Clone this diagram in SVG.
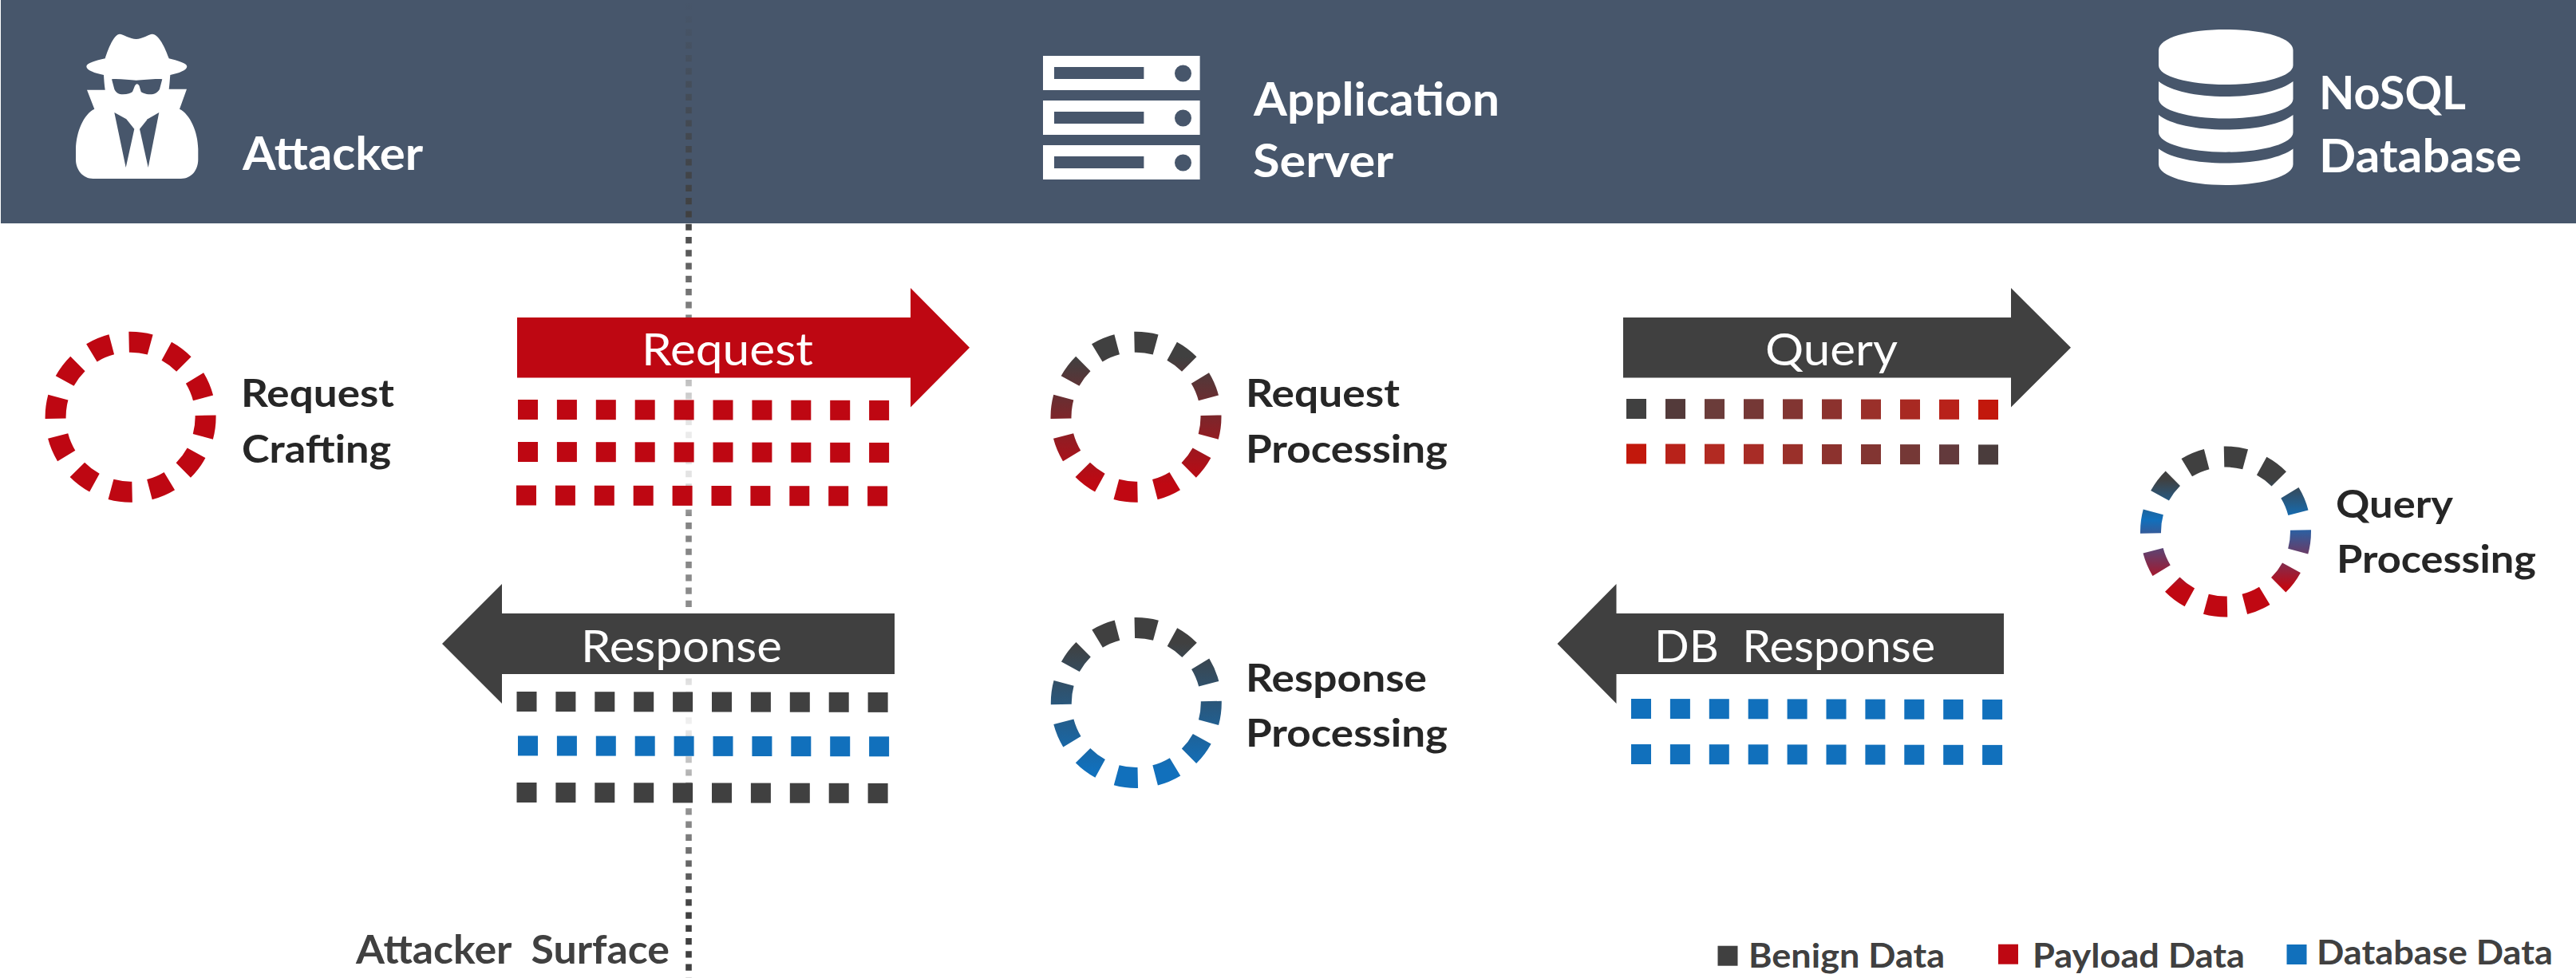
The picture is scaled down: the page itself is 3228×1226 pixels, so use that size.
<svg xmlns="http://www.w3.org/2000/svg" xmlns:xlink="http://www.w3.org/1999/xlink" width="3228" height="1226" viewBox="0 0 3228 1226">
<style>
text{font-family:Lato,"Liberation Sans",sans-serif}
.h{font-weight:700;font-size:58px;fill:#fff}
.l{font-weight:700;font-size:48px;fill:#262626}
.a{font-weight:400;font-size:57px;fill:#fff}
.g{font-weight:700;font-size:42px;fill:#404040}
.s{font-weight:700;font-size:50px;fill:#404040}
.ring{fill:none;stroke-width:26;stroke-dasharray:16.5 13.5;stroke-dashoffset:1.25}
.i{fill:#fff}.n{fill:#47566B}
.k{fill:#404040}.r{fill:#BE0712}.b{fill:#1170BC}
</style>
<defs>
<linearGradient id="gSurface" gradientUnits="userSpaceOnUse" x1="0" y1="0" x2="0" y2="1226">
<stop offset="0" stop-color="#404040" stop-opacity="0"/>
<stop offset=".22" stop-color="#404040"/>
<stop offset=".32" stop-color="#404040" stop-opacity=".65"/>
<stop offset=".44" stop-color="#404040" stop-opacity=".1"/>
<stop offset=".49" stop-color="#404040" stop-opacity=".15"/>
<stop offset=".53" stop-color="#404040" stop-opacity=".65"/>
<stop offset=".62" stop-color="#404040" stop-opacity=".6"/>
<stop offset=".70" stop-color="#404040" stop-opacity=".15"/>
<stop offset=".74" stop-color="#404040" stop-opacity=".08"/>
<stop offset=".80" stop-color="#404040" stop-opacity=".45"/>
<stop offset=".93" stop-color="#404040"/>
<stop offset=".995" stop-color="#404040"/>
<stop offset="1" stop-color="#404040" stop-opacity=".1"/>
</linearGradient>
<linearGradient id="gReq" x1="0" y1="0" x2="0" y2="1"><stop offset=".1" stop-color="#404040"/><stop offset=".95" stop-color="#C00812"/></linearGradient>
<linearGradient id="gResp" x1="0" y1="0" x2="0" y2="1"><stop offset=".1" stop-color="#404040"/><stop offset=".95" stop-color="#1170BC"/></linearGradient>
<linearGradient id="gQuery" x1="0" y1="0" x2="0" y2="1"><stop offset=".15" stop-color="#404040"/><stop offset=".42" stop-color="#1170BC"/><stop offset=".87" stop-color="#C00812"/></linearGradient>
<g id="row">
<rect x="0" y="0" width="25" height="25"/><rect x="48.9" y=".1" width="25" height="25"/><rect x="97.8" y=".2" width="25" height="25"/><rect x="146.7" y=".3" width="25" height="25"/><rect x="195.6" y=".4" width="25" height="25"/><rect x="244.5" y=".5" width="25" height="25"/><rect x="293.4" y=".6" width="25" height="25"/><rect x="342.3" y=".7" width="25" height="25"/><rect x="391.2" y=".8" width="25" height="25"/><rect x="440.1" y=".9" width="25" height="25"/>
</g>
<g id="rackUnit">
<path class="i" fill-rule="evenodd" d="M0 0H196.6V43H0ZM14 14V29H126.400V14ZM175.500 11.500A10.500 10.500 0 1 0 175.500 32.500A10.500 10.500 0 1 0 175.500 11.500Z"/>
</g>
</defs>
<rect x="1" y="0" width="3227" height="280" class="n"/>
<g id="attacker-surface">
<line x1="863" y1="3.900" x2="863" y2="1226" stroke="url(#gSurface)" stroke-width="7.600" stroke-dasharray="8.200 8.080"/>
<text class="s" x="446" y="1207.500" textLength="393" lengthAdjust="spacingAndGlyphs" xml:space="preserve">Attacker  Surface</text>
</g>
<g id="attacker">
<path class="i" d="M150 42.700C154 42.700 163 49 170.700 49C178 49 187 42.700 190.700 42.700C199 42.700 207 60 211.700 73.300C222 76 234.300 79 234.300 83.300C234.300 88 224 92 213.300 94C212.800 100 212.500 106 211.700 111.700H234L225 136.700C238 143 248 165 248.300 186.700V200C248.300 213 240 224 226.700 224H116.700C104 224 95 213 95 200V186.700C95.500 165 105 143 118.300 136.700L109 112.700H131.700C130.700 106 130.300 100 130 94C119 92 108.300 88 108.300 83.300C108.300 79 120 76 131.700 73.300C136 60 143 42.700 150 42.700Z"/>
<path class="n" d="M140 99.300C150 98.500 162 100.700 170.700 100.700C180 100.700 193 98.500 203.300 99.300L200 111.700C198 116 193 118.300 188.300 118.300C182 118.300 178 116 176.700 115L174.500 107.500Q171.700 103 169 107.500L166 115C164 116.500 160 118.300 154 118.300C149 118.300 145 116 143.300 111.700Z"/>
<path class="n" d="M143.300 141L158.300 149.300L168.300 161.700L157.700 210Z"/>
<path class="n" d="M199.300 141L185 149.300L175 161.700L185.700 210Z"/>
<text class="h" x="304" y="212.500" textLength="226" lengthAdjust="spacingAndGlyphs">Attacker</text>
</g>
<g id="application-server">
<use xlink:href="#rackUnit" href="#rackUnit" transform="translate(1307 70)"/>
<use xlink:href="#rackUnit" href="#rackUnit" transform="translate(1307 126)"/>
<use xlink:href="#rackUnit" href="#rackUnit" transform="translate(1307 182)"/>
<text class="h" x="1571" y="145" textLength="308" lengthAdjust="spacingAndGlyphs">Application</text>
<text class="h" x="1570" y="222" textLength="176" lengthAdjust="spacingAndGlyphs">Server</text>
</g>
<g id="nosql-database">
<path class="i" d="M2705 63C2705 47 2743 37 2789 37C2835 37 2873.500 47 2873.500 63V82C2873.500 96 2835 106 2789 106C2743 106 2705 96 2705 82Z"/>
<path class="i" d="M2705 102C2720 114 2752 121 2789 121C2826 121 2858 114 2873.500 102V124C2873.500 138 2835 148.500 2789 148.500C2743 148.500 2705 138 2705 124Z"/>
<path class="i" d="M2705 144C2720 156 2752 162.500 2789 162.500C2826 162.500 2858 156 2873.500 144V166C2873.500 180 2835 190.700 2789 190.700C2743 190.700 2705 180 2705 166Z"/>
<path class="i" d="M2705 186.500C2720 198 2752 204.500 2789 204.500C2826 204.500 2858 198 2873.500 186.500V206C2873.500 221 2835 232 2789 232C2743 232 2705 221 2705 206Z"/>
<text class="h" x="2906" y="137" textLength="184" lengthAdjust="spacingAndGlyphs">NoSQL</text>
<text class="h" x="2906" y="216" textLength="254" lengthAdjust="spacingAndGlyphs">Database</text>
</g>
<g id="request-crafting">
<circle class="ring" pathLength="360" cx="163.600" cy="522.700" r="94" stroke="#BE0712"/>
<text class="l" x="302" y="510" textLength="192" lengthAdjust="spacingAndGlyphs">Request</text>
<text class="l" x="303" y="579.500" textLength="187" lengthAdjust="spacingAndGlyphs">Crafting</text>
</g>
<g id="request-processing">
<circle class="ring" pathLength="360" cx="1423.500" cy="522.700" r="94" stroke="url(#gReq)"/>
<text class="l" x="1561" y="510" textLength="193" lengthAdjust="spacingAndGlyphs">Request</text>
<text class="l" x="1561" y="579.500" textLength="253" lengthAdjust="spacingAndGlyphs">Processing</text>
</g>
<g id="response-processing">
<circle class="ring" pathLength="360" cx="1423.800" cy="881" r="94" stroke="url(#gResp)"/>
<text class="l" x="1561" y="867" textLength="227" lengthAdjust="spacingAndGlyphs">Response</text>
<text class="l" x="1561" y="936" textLength="253" lengthAdjust="spacingAndGlyphs">Processing</text>
</g>
<g id="query-processing">
<circle class="ring" pathLength="360" cx="2789" cy="666.500" r="94" stroke="url(#gQuery)"/>
<text class="l" x="2927" y="648.500" textLength="147" lengthAdjust="spacingAndGlyphs">Query</text>
<text class="l" x="2928" y="717.500" textLength="250" lengthAdjust="spacingAndGlyphs">Processing</text>
</g>
<g id="connectors">
<g id="request-arrow">
<path fill="#BE0712" d="M648 398H1141V361L1215 435.700L1141 510.500V473.500H648Z"/>
<text class="a" x="804" y="457.500" textLength="215" lengthAdjust="spacingAndGlyphs">Request</text>
<use href="#row" class="r" transform="translate(649 501)"/>
<use href="#row" class="r" transform="translate(649 554)"/>
<use href="#row" class="r" transform="translate(647 608.500)"/>
</g>
<g id="query-arrow">
<path fill="#404040" d="M2034 398H2520V361L2595 435.700L2520 510.500V473.500H2034Z"/>
<text class="a" x="2212" y="457.500" textLength="166" lengthAdjust="spacingAndGlyphs">Query</text>
<rect x="2038" y="500" width="25" height="25" fill="#404040"/><rect x="2087" y="500.100" width="25" height="25" fill="#533A3A"/><rect x="2136" y="500.200" width="25" height="25" fill="#6B3C3A"/><rect x="2185" y="500.300" width="25" height="25" fill="#753836"/><rect x="2234" y="500.400" width="25" height="25" fill="#823532"/><rect x="2283" y="500.500" width="25" height="25" fill="#8C322E"/><rect x="2332" y="500.600" width="25" height="25" fill="#9A302A"/><rect x="2381" y="500.700" width="25" height="25" fill="#A82922"/><rect x="2430" y="500.800" width="25" height="25" fill="#B8221A"/><rect x="2479" y="501" width="25" height="25" fill="#C2180C"/>
<rect x="2038" y="556.400" width="25" height="25" fill="#C2180C"/><rect x="2087" y="556.500" width="25" height="25" fill="#B8221A"/><rect x="2136" y="556.600" width="25" height="25" fill="#B22A22"/><rect x="2185" y="556.700" width="25" height="25" fill="#A82C26"/><rect x="2234" y="556.800" width="25" height="25" fill="#9A302A"/><rect x="2283" y="556.900" width="25" height="25" fill="#8C322E"/><rect x="2332" y="557" width="25" height="25" fill="#823532"/><rect x="2381" y="557.100" width="25" height="25" fill="#753836"/><rect x="2430" y="557.200" width="25" height="25" fill="#633A3C"/><rect x="2479" y="557.400" width="25" height="25" fill="#4A3C3C"/>
</g>
<g id="response-arrow">
<path fill="#404040" d="M1121 769H629V732L554 807L629 882V845H1121Z"/>
<text class="a" x="728" y="830" textLength="252" lengthAdjust="spacingAndGlyphs">Response</text>
<use href="#row" class="k" transform="translate(647.500 867)"/>
<use href="#row" class="b" transform="translate(649 922.400)"/>
<use href="#row" class="k" transform="translate(647.500 981)"/>
</g>
<g id="db-response-arrow">
<path fill="#404040" d="M2511 769H2025.500V732L1951.500 807L2025.500 882V845H2511Z"/>
<text class="a" x="2073" y="830" textLength="352" lengthAdjust="spacingAndGlyphs" xml:space="preserve">DB  Response</text>
<use href="#row" class="b" transform="translate(2044 876)"/>
<use href="#row" class="b" transform="translate(2044 933)"/>
</g>
</g>
<g id="legend">
<rect class="k" x="2152.500" y="1185.700" width="25" height="25"/>
<text class="g" x="2191" y="1213" textLength="246" lengthAdjust="spacingAndGlyphs">Benign Data</text>
<rect class="r" x="2504" y="1183.700" width="25" height="25"/>
<text class="g" x="2547" y="1213" textLength="266" lengthAdjust="spacingAndGlyphs">Payload Data</text>
<rect class="b" x="2865.500" y="1184" width="25" height="25"/>
<text class="g" x="2903" y="1209" textLength="296" lengthAdjust="spacingAndGlyphs">Database Data</text>
</g>
</svg>
